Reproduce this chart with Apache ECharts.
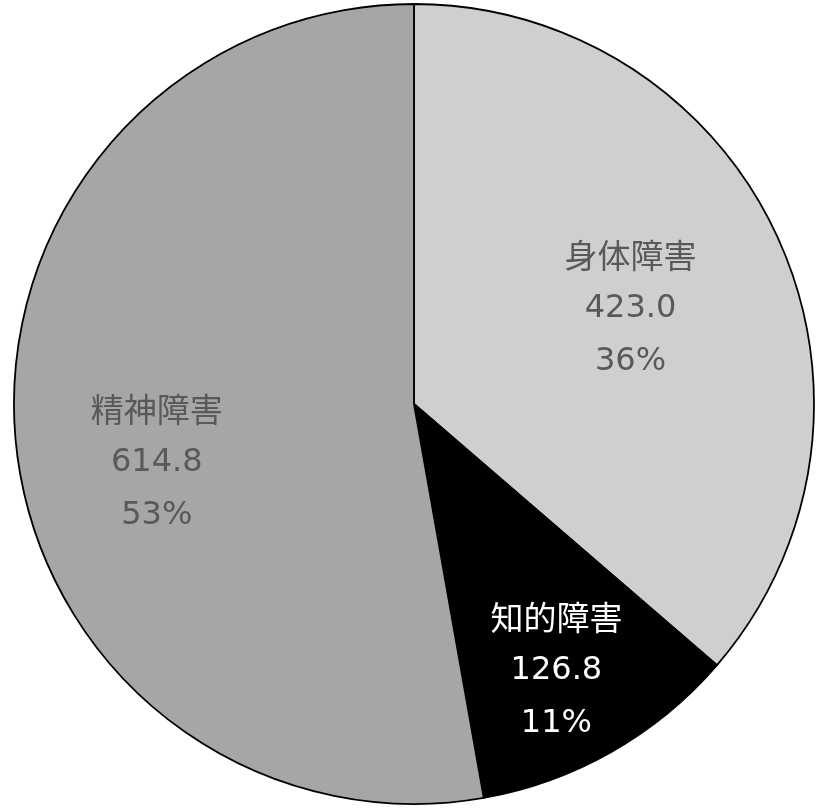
<!DOCTYPE html>
<html>
<head>
<meta charset="utf-8">
<style>
  html, body { margin: 0; padding: 0; background: #ffffff; }
  #chart { width: 817px; height: 808px; }
</style>
<script src="https://cdn.jsdelivr.net/npm/echarts@6/dist/echarts.min.js"></script>
</head>
<body>
<div id="chart"></div>
<script>
// Disability categories and their values
const categories = ['身体障害', '知的障害', '精神障害'];
const values = [423.0, 126.8, 614.8];

// Slice fills and label colours, in category order
const sliceColors = ['#d0cece', '#000000', '#a6a6a6'];
const labelColors = ['#595959', '#ffffff', '#595959'];
// Nudges that move each label away from the default inside spot
const labelNudge = [[32, -11], [42, 90], [-55, 41]];

const total = values.reduce((a, b) => a + b, 0);

const chart = echarts.init(document.getElementById('chart'), null, { renderer: 'canvas' });

chart.setOption({
  animation: false,
  backgroundColor: '#ffffff',
  series: [{
    type: 'pie',
    center: [414, 404],
    radius: [0, 400],
    startAngle: 90,
    clockwise: true,
    avoidLabelOverlap: false,
    emphasis: { disabled: true },
    itemStyle: { borderColor: '#000000', borderWidth: 1.8 },
    label: {
      show: true,
      position: 'inside',
      fontFamily: 'DejaVu Sans, "Noto Sans CJK JP", sans-serif',
      fontSize: 32,
      lineHeight: 53,
      align: 'center',
      formatter: (p) => '{n|' + p.name + '}\n' + p.value.toFixed(1) + '\n' + Math.round(p.value / total * 100) + '%',
      rich: {
        n: { fontSize: 33, lineHeight: 53, fontFamily: '"Noto Sans CJK JP", sans-serif' }
      }
    },
    labelLine: { show: false },
    labelLayout: (params) => ({
      dx: labelNudge[params.dataIndex][0],
      dy: labelNudge[params.dataIndex][1]
    }),
    data: categories.map((name, i) => ({
      name: name,
      value: values[i],
      itemStyle: { color: sliceColors[i] },
      label: { color: labelColors[i], rich: { n: { color: labelColors[i] } } }
    }))
  }]
});
</script>
</body>
</html>
